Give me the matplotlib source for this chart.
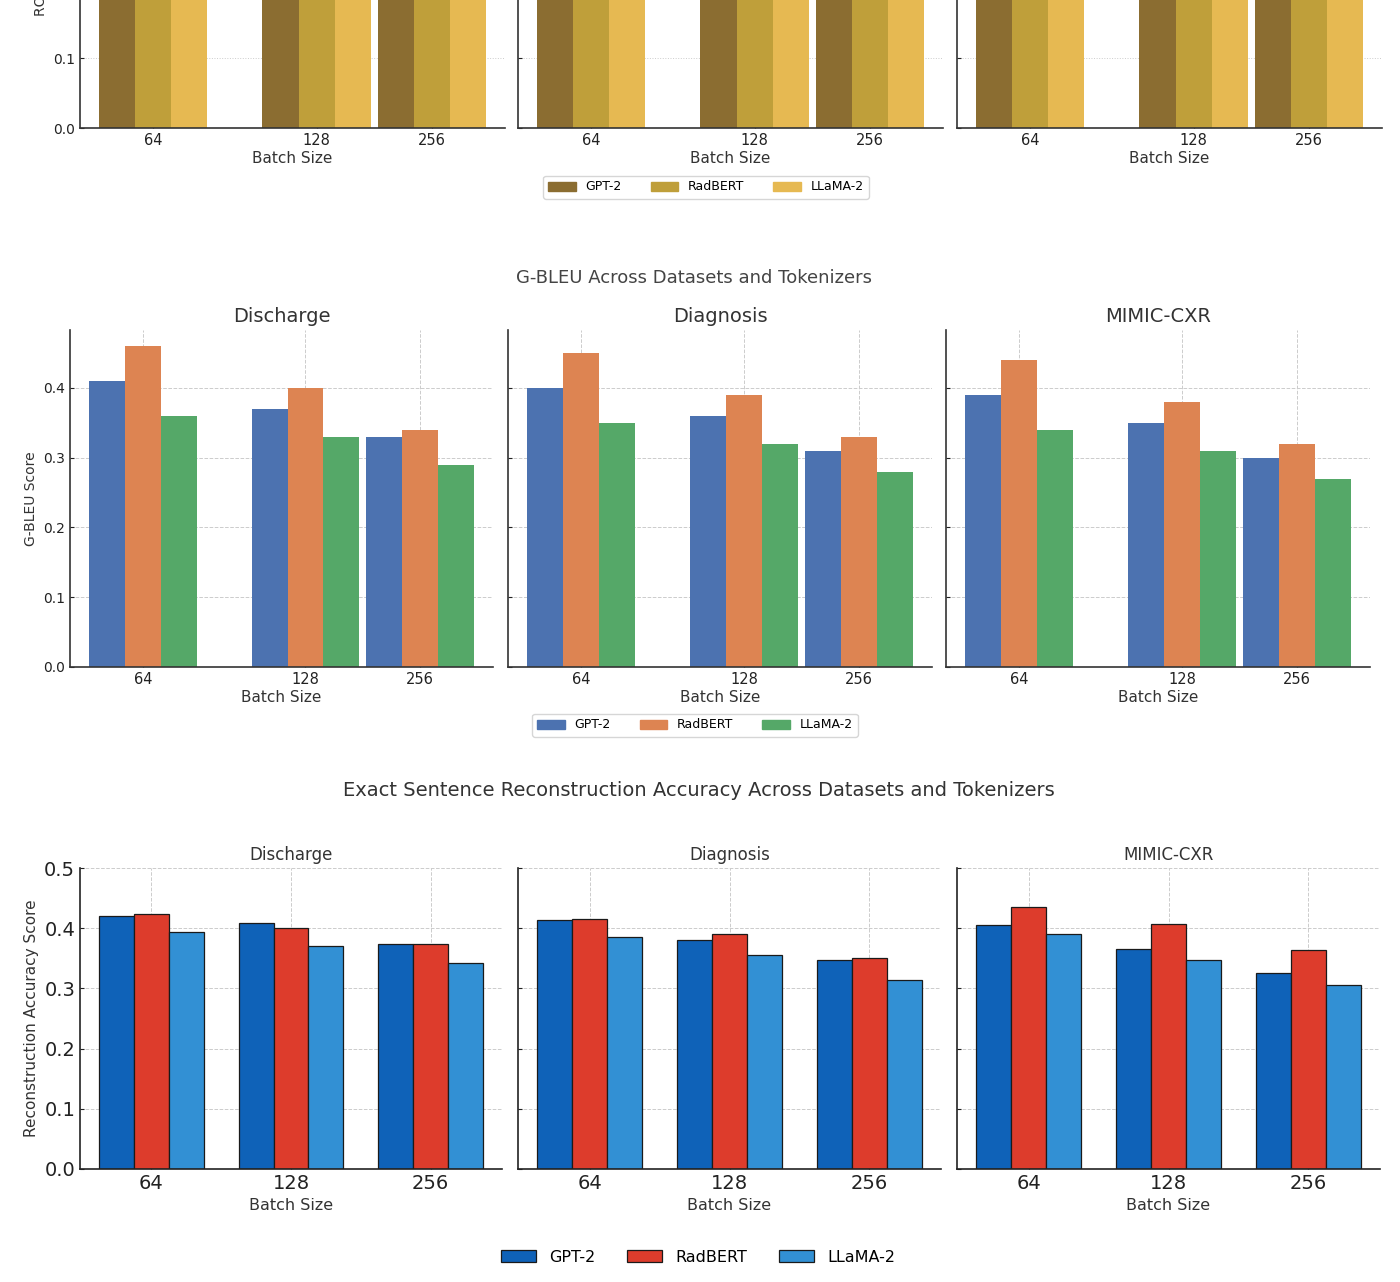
import numpy as np
import matplotlib
matplotlib.use('Agg')
import matplotlib.pyplot as plt
from matplotlib.patches import Patch

# ---- data ----
datasets = ['Discharge', 'Diagnosis', 'MIMIC-CXR']
batch_sizes = ['64', '128', '256']
tokenizers = ['GPT-2', 'RadBERT', 'LLaMA-2']

# ROUGE (top figure, mostly cropped in the reference)
rouge_discharge = [[0.45, 0.42, 0.38], [0.49, 0.45, 0.41], [0.41, 0.38, 0.35]]
rouge_diagnosis = [[0.44, 0.41, 0.37], [0.48, 0.44, 0.40], [0.40, 0.37, 0.34]]
rouge_mimic = [[0.43, 0.40, 0.36], [0.47, 0.43, 0.39], [0.39, 0.36, 0.33]]

# G-BLEU
gbleu_discharge = [[0.41, 0.37, 0.33], [0.46, 0.40, 0.34], [0.36, 0.33, 0.29]]
gbleu_diagnosis = [[0.40, 0.36, 0.31], [0.45, 0.39, 0.33], [0.35, 0.32, 0.28]]
gbleu_mimic = [[0.39, 0.35, 0.30], [0.44, 0.38, 0.32], [0.34, 0.31, 0.27]]

# Exact sentence reconstruction accuracy
acc_discharge = [[0.421, 0.408, 0.374], [0.423, 0.401, 0.373], [0.394, 0.370, 0.343]]
acc_diagnosis = [[0.414, 0.381, 0.347], [0.415, 0.390, 0.351], [0.385, 0.355, 0.314]]
acc_mimic = [[0.406, 0.365, 0.326], [0.436, 0.407, 0.363], [0.390, 0.348, 0.306]]

rouge = [rouge_discharge, rouge_diagnosis, rouge_mimic]
gbleu = [gbleu_discharge, gbleu_diagnosis, gbleu_mimic]
acc = [acc_discharge, acc_diagnosis, acc_mimic]

# ---- styling ----
W, H = 1400, 1282
gold = ['#8B6D31', '#BF9F3A', '#E6B952']
deep = ['#4C72B0', '#DD8452', '#55A868']
blues = ['#0F62B8', '#DD3C2C', '#3290D4']

plt.rcParams['font.family'] = 'DejaVu Sans'
fig = plt.figure(figsize=(W / 100, H / 100), dpi=100)
fig.patch.set_facecolor('white')


def box(x0, y0, x1, y1):
    # pixel box (top-left origin) -> figure fraction rect
    return [x0 / W, 1 - y1 / H, (x1 - x0) / W, (y1 - y0) / H]


def style_axis(ax, grid_ls, spine_col='#333333'):
    ax.spines['top'].set_visible(False)
    ax.spines['right'].set_visible(False)
    for s in ['left', 'bottom']:
        ax.spines[s].set_color(spine_col)
        ax.spines[s].set_linewidth(1.2)
    ax.set_axisbelow(True)
    ax.grid(True, linestyle=grid_ls, color='#cccccc', linewidth=0.7)
    ax.tick_params(direction='in', length=3, colors='#222222')


uneven_pos = np.array([0.0, 1.0, 1.705])
even_pos = np.array([0.0, 1.0, 2.0])

# ---- top figure (ROUGE), cut off at the top edge ----
top_x = [(80, 505), (518, 943), (957, 1382)]
for k, (x0, x1) in enumerate(top_x):
    ax = fig.add_axes(box(x0, 128 - 330, x1, 128))
    style_axis(ax, ':')
    w = 0.221
    for j in range(3):
        ax.bar(uneven_pos + (j - 1) * w, rouge[k][j], w, color=gold[j])
    ax.set_ylim(0, 330 / 700)
    ax.set_xlim(uneven_pos[0] - 1.5 * w - 0.118, uneven_pos[-1] + 1.5 * w + 0.118)
    ax.set_xticks(uneven_pos)
    ax.set_xticklabels(batch_sizes, fontsize=10.5)
    ax.set_yticks([0.0, 0.1])
    ax.set_xlabel('Batch Size', fontsize=11, color='#333333', labelpad=2)
    if k == 0:
        ax.set_yticklabels(['0.0', '0.1'], fontsize=10)
        ax.set_ylabel('ROUGE-L Score', fontsize=10, color='#333333')
    else:
        ax.set_yticklabels([])

fig.legend([Patch(color=c) for c in gold], tokenizers, loc='center',
           bbox_to_anchor=(706 / W, 1 - 187 / H), ncol=3, fontsize=9,
           frameon=True, edgecolor='#cccccc', handlelength=2.2, columnspacing=2.3)

# ---- G-BLEU figure ----
fig.text(694 / W, 1 - 278 / H, 'G-BLEU Across Datasets and Tokenizers',
         ha='center', va='center', fontsize=13, color='#444444')
gb_x = [(70, 493), (508, 932), (946, 1370)]
for k, (x0, x1) in enumerate(gb_x):
    ax = fig.add_axes(box(x0, 330, x1, 667))
    style_axis(ax, '--')
    w = 0.221
    for j in range(3):
        ax.bar(uneven_pos + (j - 1) * w, gbleu[k][j], w, color=deep[j])
    ax.set_ylim(0, 0.483)
    ax.set_xlim(uneven_pos[0] - 1.5 * w - 0.118, uneven_pos[-1] + 1.5 * w + 0.118)
    ax.set_xticks(uneven_pos)
    ax.set_xticklabels(batch_sizes, fontsize=10.5)
    ax.set_yticks([0.0, 0.1, 0.2, 0.3, 0.4])
    ax.set_title(datasets[k], fontsize=14, color='#333333', pad=6)
    ax.set_xlabel('Batch Size', fontsize=11, color='#333333', labelpad=2)
    if k == 0:
        ax.set_yticklabels(['0.0', '0.1', '0.2', '0.3', '0.4'], fontsize=10)
        ax.set_ylabel('G-BLEU Score', fontsize=10, color='#333333')
    else:
        ax.set_yticklabels([])

fig.legend([Patch(color=c) for c in deep], tokenizers, loc='center',
           bbox_to_anchor=(695 / W, 1 - 725 / H), ncol=3, fontsize=9,
           frameon=True, edgecolor='#cccccc', handlelength=2.2, columnspacing=2.3)

# ---- Exact sentence reconstruction accuracy figure ----
fig.text(699 / W, 1 - 791 / H,
         'Exact Sentence Reconstruction Accuracy Across Datasets and Tokenizers',
         ha='center', va='center', fontsize=14, color='#333333')
acc_x = [(80, 502), (518, 941), (957, 1380)]
for k, (x0, x1) in enumerate(acc_x):
    ax = fig.add_axes(box(x0, 868, x1, 1169))
    style_axis(ax, '--', spine_col='#222222')
    w = 0.25
    for j in range(3):
        ax.bar(even_pos + (j - 1) * w, acc[k][j], w, color=blues[j],
               edgecolor='#1a1a1a', linewidth=0.9)
    ax.set_ylim(0, 0.5)
    ax.set_xticks(even_pos)
    ax.set_xticklabels(batch_sizes, fontsize=14)
    ax.set_yticks([0.0, 0.1, 0.2, 0.3, 0.4, 0.5])
    ax.set_title(datasets[k], fontsize=12, color='#333333', pad=6)
    ax.set_xlabel('Batch Size', fontsize=11.5, color='#333333', labelpad=4)
    if k == 0:
        ax.set_yticklabels(['0.0', '0.1', '0.2', '0.3', '0.4', '0.5'], fontsize=14)
        ax.set_ylabel('Reconstruction Accuracy Score', fontsize=11, color='#333333')
    else:
        ax.set_yticklabels([])

fig.legend([Patch(facecolor=c, edgecolor='#1a1a1a', linewidth=0.9) for c in blues],
           tokenizers, loc='center', bbox_to_anchor=(698 / W, 1 - 1257 / H),
           ncol=3, fontsize=11.5, frameon=False, handlelength=2.2, columnspacing=2.0)

fig.savefig('out.png', dpi=100)
plt.close(fig)
